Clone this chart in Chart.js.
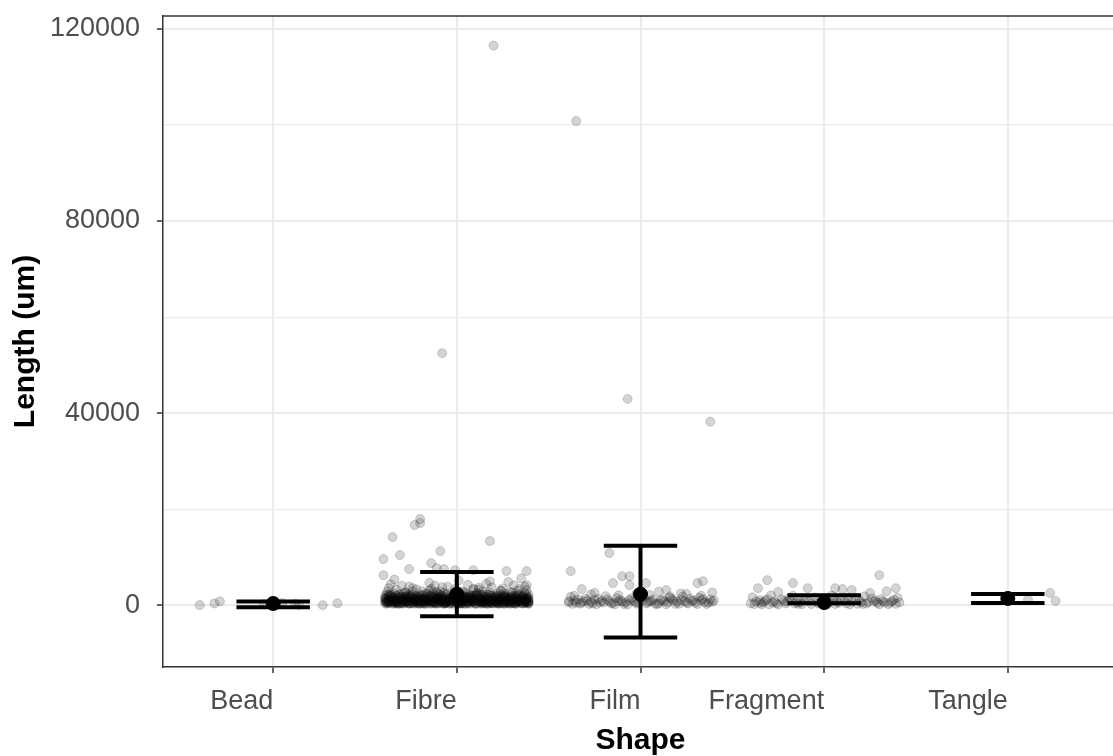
<!DOCTYPE html>
<html>
<head>
<meta charset="utf-8">
<script src="https://cdn.jsdelivr.net/npm/chart.js@4.4.1/dist/chart.umd.min.js"></script>
<style>
html, body { margin: 0; padding: 0; background: #fff; overflow: hidden; }
#wrap { width: 1126px; height: 756px; }
</style>
</head>
<body>
<div id="wrap"><canvas id="grafico" width="1126" height="756"></canvas></div>
<script>
// ==============================
// DATA
// ==============================

const shapes = ["Bead", "Fibre", "Film", "Fragment", "Tangle"];
const yTicks = [0, 40000, 80000, 120000];
const yMinor = [20000, 60000, 100000];

// summary per shape: point, lower and upper end of the error bar
const centre  = [400, 2350, 2350, 600, 1460];
const barLow  = [-350, -2230, -6650, 480, 520];
const barHigh = [800, 6940, 12420, 2100, 2400];

// measured particles: [jitter, length in um]
const beadPts = [
  [-0.40, 80], [-0.32, 420], [-0.29, 850], [-0.05, 300], [0.05, 500],
  [0.12, 350], [0.14, 80], [0.27, 60], [0.35, 460]
];

const fibrePts = [
  [0.20, 116500], [-0.08, 52500],
  [-0.20, 17980], [-0.23, 16730], [-0.20, 17150], [-0.35, 14230], [0.18, 13400],
  [-0.40, 9650], [-0.31, 10480], [-0.09, 11310], [-0.26, 7560], [-0.14, 8810],
  [-0.40, 6310], [0.38, 7150], [0.27, 7150], [0.09, 7350], [-0.01, 7350],
  [-0.11, 7770], [-0.07, 7560],
  [-0.37, 3600], [-0.30, 4100], [-0.22, 3350], [-0.15, 4700], [-0.08, 3800], [-0.01, 3450],
  [0.06, 4300], [0.12, 3700], [0.18, 5000], [0.25, 3550], [0.31, 4200], [0.37, 3900],
  [-0.34, 5400], [-0.26, 3950], [0.01, 5200], [0.09, 3300], [0.28, 4900], [0.35, 5600],
  [-0.38, 2900], [-0.33, 3300], [-0.28, 2750], [-0.24, 3600], [-0.19, 2950], [-0.14, 3450],
  [-0.09, 2850], [-0.05, 3900], [0.00, 3050], [0.04, 2700], [0.09, 3500], [0.14, 2900],
  [0.19, 3800], [0.24, 3100], [0.29, 2800], [0.34, 3400], [0.38, 4200], [-0.36, 4400],
  [-0.12, 4100], [0.16, 4500],
  [-0.38, 820], [-0.35, 1540], [-0.31, 410], [-0.27, 2210], [-0.24, 960], [-0.20, 1330],
  [-0.17, 620], [-0.13, 2870], [-0.09, 1120], [-0.06, 480], [-0.02, 1760], [0.02, 930],
  [0.05, 2450], [0.09, 710], [0.12, 1390], [0.16, 380], [0.19, 2030], [0.23, 1050],
  [0.26, 560], [0.30, 1680], [0.33, 890], [0.37, 2610],
  [-0.37, 1960], [-0.33, 690], [-0.30, 1210], [-0.26, 350], [-0.22, 1820], [-0.19, 1040],
  [-0.15, 3150], [-0.11, 760], [-0.08, 1450], [-0.04, 520], [0.00, 2290], [0.03, 860],
  [0.07, 1610], [0.10, 420], [0.14, 1150], [0.18, 2720], [0.21, 790], [0.25, 1370],
  [0.28, 450], [0.32, 1910], [0.35, 1000], [0.39, 640],
  [-0.39, 1250], [-0.34, 2480], [-0.29, 880], [-0.25, 1590], [-0.21, 470], [-0.18, 2060],
  [-0.14, 950], [-0.10, 1680], [-0.07, 330], [-0.03, 1300], [0.01, 640], [0.04, 1870],
  [0.08, 1010], [0.11, 2560], [0.15, 730], [0.17, 1480], [0.22, 580], [0.24, 2150],
  [0.29, 970], [0.31, 1260], [0.36, 390], [0.38, 1730],
  [-0.36, 540], [-0.32, 1380], [-0.28, 2640], [-0.23, 730], [-0.20, 1900], [-0.16, 400],
  [-0.12, 1220], [-0.10, 2340], [-0.05, 870], [-0.01, 1520], [0.02, 370], [0.06, 1090],
  [0.09, 2010], [0.13, 540], [0.16, 1630], [0.20, 910], [0.24, 3010], [0.27, 680],
  [0.31, 1440], [0.34, 2290], [0.37, 770], [0.39, 1180],
  [-0.38, 2330], [-0.34, 1080], [-0.30, 590], [-0.27, 1710], [-0.23, 1160], [-0.19, 760],
  [-0.16, 2500], [-0.12, 430], [-0.08, 1940], [-0.05, 1200], [-0.01, 680], [0.03, 2880],
  [0.06, 500], [0.10, 1340], [0.13, 870], [0.17, 2240], [0.20, 450], [0.23, 1560],
  [0.27, 1120], [0.30, 2700], [0.34, 580], [0.38, 1390],
  [-0.39, 700], [-0.36, 1820], [-0.32, 310], [-0.29, 1450], [-0.25, 2090], [-0.21, 820],
  [-0.17, 1600], [-0.14, 590], [-0.11, 2760], [-0.07, 1020], [-0.03, 440], [0.00, 1640],
  [0.04, 1230], [0.07, 360], [0.11, 1980], [0.14, 1060], [0.18, 610], [0.22, 2380],
  [0.25, 840], [0.29, 1520], [0.32, 400], [0.36, 2040],
  [-0.37, 1150], [-0.33, 460], [-0.29, 2560], [-0.26, 1030], [-0.22, 640], [-0.18, 1370],
  [-0.15, 1980], [-0.11, 350], [-0.07, 2630], [-0.04, 1490], [0.00, 770], [0.04, 1300],
  [0.08, 560], [0.11, 2110], [0.15, 1210], [0.19, 470], [0.22, 1790], [0.26, 2430],
  [0.29, 620], [0.33, 1100], [0.36, 1640], [0.39, 420],
  [-0.38, 390], [-0.35, 1260], [-0.31, 1790], [-0.28, 550], [-0.24, 2930], [-0.20, 1130],
  [-0.17, 330], [-0.13, 1560], [-0.09, 860], [-0.06, 2190], [-0.02, 1090], [0.01, 520],
  [0.05, 1720], [0.08, 940], [0.12, 3300], [0.15, 410], [0.19, 1280], [0.22, 730],
  [0.26, 1860], [0.30, 1010], [0.33, 3080], [0.37, 520],
  [-0.36, 2090], [-0.33, 830], [-0.28, 1330], [-0.24, 390], [-0.21, 1050], [-0.17, 2410],
  [-0.13, 700], [-0.10, 1190], [-0.06, 480], [-0.02, 2020], [0.02, 1420], [0.05, 650],
  [0.09, 1050], [0.13, 2300], [0.16, 790], [0.20, 1690], [0.23, 360], [0.27, 1230],
  [0.31, 2050], [0.34, 880], [0.38, 1530], [0.39, 2260],
  [-0.39, 1600], [-0.35, 660], [-0.32, 2190], [-0.27, 940], [-0.23, 1420], [-0.20, 340],
  [-0.16, 1110], [-0.12, 1830], [-0.09, 600], [-0.05, 1360], [-0.01, 2560], [0.03, 460],
  [0.07, 1810], [0.10, 1180], [0.14, 600], [0.17, 1370], [0.21, 2040], [0.25, 380],
  [0.28, 1580], [0.32, 720], [0.35, 1290], [0.38, 3200],
  [-0.38, 560], [-0.34, 1020], [-0.30, 1870], [-0.26, 420], [-0.22, 1290], [-0.18, 810],
  [-0.14, 1500], [-0.10, 540], [-0.06, 990], [-0.02, 1410], [0.02, 760], [0.06, 1940],
  [0.10, 330], [0.14, 1250], [0.18, 1030], [0.22, 590], [0.26, 1700], [0.30, 460],
  [0.34, 1120], [0.38, 880],
  [-0.39, 950], [-0.35, 350], [-0.31, 1480], [-0.27, 770], [-0.23, 390], [-0.19, 1240],
  [-0.15, 870], [-0.11, 1590], [-0.07, 410], [-0.03, 890], [0.01, 1170], [0.05, 340],
  [0.09, 1510], [0.13, 920], [0.17, 400], [0.21, 1090], [0.25, 1330], [0.29, 350],
  [0.33, 800], [0.37, 1270],
  [-0.39, 1420], [-0.37, 530], [-0.34, 1760], [-0.32, 990], [-0.29, 410], [-0.27, 1330],
  [-0.24, 2270], [-0.22, 680], [-0.19, 1480], [-0.17, 920], [-0.14, 2110], [-0.12, 450],
  [-0.09, 1270], [-0.07, 820], [-0.04, 1960], [-0.02, 590], [0.01, 1390], [0.03, 2160],
  [0.06, 710], [0.08, 1550], [0.11, 380], [0.13, 1120], [0.16, 2310], [0.18, 650],
  [0.21, 1470], [0.23, 960], [0.26, 2060], [0.28, 520], [0.31, 1340], [0.33, 870],
  [0.36, 1890], [0.38, 610],
  [-0.38, 1050], [-0.36, 2380], [-0.33, 640], [-0.31, 1190], [-0.28, 1830], [-0.26, 470],
  [-0.23, 980], [-0.21, 1620], [-0.18, 360], [-0.16, 1280], [-0.13, 760], [-0.11, 2010],
  [-0.08, 1100], [-0.06, 540], [-0.03, 1650], [-0.01, 1030], [0.02, 440], [0.04, 1210],
  [0.07, 2230], [0.09, 830], [0.12, 1660], [0.14, 470], [0.17, 1000], [0.19, 1820],
  [0.22, 390], [0.24, 1250], [0.27, 780], [0.29, 2200], [0.32, 560], [0.34, 1430],
  [0.37, 1010], [0.39, 330],
  [-0.39, 380], [-0.36, 1300], [-0.34, 700], [-0.31, 2320], [-0.29, 1020], [-0.26, 1560],
  [-0.24, 520], [-0.21, 1180], [-0.19, 2170], [-0.16, 780], [-0.14, 340], [-0.11, 1420],
  [-0.09, 1890], [-0.06, 650], [-0.04, 1140], [-0.01, 2390], [0.01, 480], [0.04, 1560],
  [0.06, 900], [0.09, 1240], [0.11, 2420], [0.14, 690], [0.16, 1350], [0.19, 420],
  [0.21, 1720], [0.24, 1130], [0.26, 350], [0.29, 1790], [0.31, 760], [0.34, 2090],
  [0.36, 1200], [0.39, 870],
  [-0.37, 870], [-0.35, 1650], [-0.32, 450], [-0.30, 1030], [-0.27, 1900], [-0.25, 720],
  [-0.22, 1410], [-0.20, 560], [-0.17, 1830], [-0.15, 1090], [-0.12, 660], [-0.10, 1540],
  [-0.07, 1160], [-0.05, 2450], [-0.02, 370], [0.00, 1190], [0.03, 700], [0.05, 1750],
  [0.08, 1310], [0.10, 590], [0.13, 1980], [0.15, 860], [0.18, 1540], [0.20, 1150],
  [0.23, 460], [0.25, 1900], [0.28, 1040], [0.30, 620], [0.33, 1570], [0.35, 440],
  [0.38, 2150], [0.39, 980],
  [-0.38, 1590], [-0.35, 900], [-0.33, 2060], [-0.30, 380], [-0.28, 1240], [-0.25, 1810],
  [-0.23, 840], [-0.20, 2200], [-0.18, 530], [-0.15, 1380], [-0.13, 1010], [-0.10, 420],
  [-0.08, 1700], [-0.05, 790], [-0.03, 1310], [0.00, 460], [0.02, 1880], [0.05, 1060],
  [0.07, 1460], [0.10, 2100], [0.12, 720], [0.15, 1830], [0.17, 350], [0.20, 1290],
  [0.22, 2010], [0.25, 700], [0.27, 1480], [0.30, 1200], [0.32, 340], [0.35, 1740],
  [0.37, 590], [0.39, 1460],
  [-0.39, 2020], [-0.37, 760], [-0.34, 1120], [-0.32, 1540], [-0.29, 640], [-0.27, 870],
  [-0.24, 1690], [-0.22, 1250], [-0.19, 450], [-0.17, 1110], [-0.14, 1790], [-0.12, 930],
  [-0.09, 2300], [-0.07, 560], [-0.04, 1430], [-0.02, 1700], [0.01, 830], [0.03, 430],
  [0.06, 1590], [0.08, 2050], [0.11, 990], [0.13, 1480], [0.16, 580], [0.18, 2170],
  [0.21, 1060], [0.23, 1690], [0.26, 510], [0.28, 1100], [0.31, 1630], [0.33, 2340],
  [0.36, 480], [0.38, 1350],
  [-0.38, 680], [-0.36, 1160], [-0.33, 1450], [-0.31, 580], [-0.28, 990], [-0.26, 2040],
  [-0.23, 1560], [-0.21, 390], [-0.18, 1160], [-0.16, 880], [-0.13, 2240], [-0.11, 1350],
  [-0.08, 500], [-0.06, 1760], [-0.03, 940], [-0.01, 1210], [0.02, 2080], [0.04, 350],
  [0.07, 1010], [0.09, 1400], [0.12, 860], [0.14, 2240], [0.17, 1130], [0.19, 610],
  [0.22, 1310], [0.24, 470], [0.27, 1640], [0.29, 920], [0.32, 1820], [0.34, 640],
  [0.37, 1180], [0.39, 1740],
  [-0.37, 2250], [-0.34, 410], [-0.32, 1310], [-0.29, 1670], [-0.27, 560], [-0.24, 1150],
  [-0.22, 2000], [-0.19, 880], [-0.17, 1400], [-0.14, 500], [-0.12, 1670], [-0.09, 1000],
  [-0.07, 1450], [-0.04, 330], [-0.02, 2150], [0.01, 1540], [0.03, 990], [0.06, 560],
  [0.08, 1180], [0.11, 1570], [0.13, 340], [0.16, 1800], [0.18, 940], [0.21, 530],
  [0.23, 1220], [0.26, 1600], [0.28, 880], [0.31, 410], [0.33, 1270], [0.36, 1560],
  [0.38, 700], [0.39, 540]
];

const filmPts = [
  [-0.35, 100800], [-0.07, 42980], [0.38, 38250],
  [-0.17, 10900], [-0.38, 7150], [-0.15, 4650], [-0.10, 6100], [-0.06, 6100], [-0.06, 4230],
  [0.03, 4650], [0.31, 4650], [0.34, 5060], [0.14, 3190], [-0.32, 3400],
  [0.22, 2500], [-0.25, 2600], [0.10, 2900],
  [-0.36, 2000], [-0.27, 2300], [-0.12, 2100], [-0.02, 2600], [0.05, 2200], [0.16, 1900],
  [0.25, 2400], [0.33, 2000], [0.39, 2700],
  [-0.39, 620], [-0.36, 1050], [-0.33, 380], [-0.30, 1410], [-0.27, 720], [-0.24, 250],
  [-0.21, 980], [-0.18, 1300], [-0.15, 520], [-0.12, 870], [-0.09, 300], [-0.06, 1150],
  [-0.03, 680], [0.00, 1480], [0.03, 420], [0.06, 930], [0.09, 260], [0.12, 1210],
  [0.15, 640], [0.18, 1020], [0.21, 350], [0.24, 850], [0.27, 1390], [0.30, 560],
  [0.33, 1100], [0.36, 300], [0.39, 760],
  [-0.38, 1800], [-0.35, 560], [-0.31, 880], [-0.28, 310], [-0.25, 1220], [-0.22, 640],
  [-0.19, 1940], [-0.16, 420], [-0.13, 1540], [-0.10, 780], [-0.07, 210], [-0.04, 1020],
  [-0.01, 560], [0.02, 1690], [0.05, 850], [0.08, 380], [0.11, 1060], [0.14, 270],
  [0.17, 1370], [0.20, 760], [0.23, 1870], [0.26, 430], [0.29, 1030], [0.32, 1630],
  [0.35, 690], [0.38, 1250],
  [-0.39, 900], [-0.37, 330], [-0.34, 1250], [-0.32, 560], [-0.29, 980], [-0.26, 400],
  [-0.23, 1350], [-0.20, 590], [-0.17, 880], [-0.14, 240], [-0.11, 1120], [-0.08, 640],
  [-0.05, 1500], [-0.02, 370], [0.01, 980], [0.04, 610], [0.07, 1270], [0.10, 450],
  [0.13, 880], [0.16, 1540], [0.19, 330], [0.22, 1150], [0.25, 560], [0.28, 910],
  [0.31, 300], [0.34, 1320], [0.37, 580], [0.40, 1020]
];

const fragmentPts = [
  [-0.31, 5270], [0.30, 6310], [-0.17, 4650], [-0.09, 3600], [0.06, 3600], [0.10, 3400],
  [0.15, 3190], [0.39, 3600], [0.34, 2980], [-0.36, 3600], [-0.25, 2800], [0.25, 2600],
  [-0.40, 420], [-0.37, 850], [-0.34, 230], [-0.31, 1280], [-0.28, 600], [-0.25, 180],
  [-0.22, 940], [-0.19, 1500], [-0.16, 410], [-0.13, 760], [-0.10, 1150], [-0.07, 300],
  [-0.04, 640], [-0.01, 980], [0.02, 250], [0.05, 1320], [0.08, 530], [0.11, 860],
  [0.14, 210], [0.17, 1180], [0.20, 690], [0.23, 380], [0.26, 1450], [0.29, 560],
  [0.32, 900], [0.35, 270], [0.38, 1210], [0.41, 620],
  [-0.39, 1700], [-0.35, 560], [-0.32, 1030], [-0.29, 2100], [-0.26, 470], [-0.23, 1300],
  [-0.20, 780], [-0.17, 2000], [-0.14, 330], [-0.11, 1050], [-0.05, 1650], [0.00, 420],
  [0.04, 2050], [0.07, 760], [0.13, 1600], [0.18, 350], [0.22, 1900], [0.27, 800],
  [0.31, 1350], [0.36, 590], [0.40, 1600],
  [-0.38, 300], [-0.35, 1100], [-0.33, 650], [-0.30, 250], [-0.27, 900], [-0.21, 420],
  [-0.18, 1050], [-0.15, 700], [-0.12, 280], [-0.08, 850], [-0.03, 400], [0.01, 1100],
  [0.03, 650], [0.06, 300], [0.09, 1000], [0.12, 450], [0.15, 780], [0.19, 1200],
  [0.21, 320], [0.24, 680], [0.28, 1050], [0.30, 260], [0.33, 600], [0.37, 900],
  [0.39, 330]
];

const tanglePts = [
  [0.23, 2600], [0.26, 950], [0.11, 1140]
];

const allPts = [beadPts, fibrePts, filmPts, fragmentPts, tanglePts];

// ==============================
// BUILD DATASETS
// ==============================

const jitterData = [];
allPts.forEach((lista, i) => {
  lista.forEach(p => jitterData.push({ x: i + 1 + p[0], y: p[1] }));
});

const meanData = centre.map((v, i) => ({ x: i + 1, y: v }));

// error bars as line pieces broken by gaps
const capHalf = 0.2;
const barData = [];
shapes.forEach((s, i) => {
  const c = i + 1;
  barData.push({ x: c - capHalf, y: barHigh[i] }, { x: c + capHalf, y: barHigh[i] }, { x: c, y: null });
  barData.push({ x: c, y: barHigh[i] }, { x: c, y: barLow[i] }, { x: c, y: null });
  barData.push({ x: c - capHalf, y: barLow[i] }, { x: c + capHalf, y: barLow[i] }, { x: c, y: null });
});

// y range with 5% padding on each side
const todos = jitterData.map(d => d.y).concat(barLow, barHigh);
const yLo = Math.min(...todos);
const yHi = Math.max(...todos);
const yPad = (yHi - yLo) * 0.05;

// ==============================
// PANEL TOP BORDER
// ==============================

const bordeSuperior = {
  id: "bordeSuperior",
  afterDraw(chart) {
    const a = chart.chartArea;
    const ctx = chart.ctx;
    ctx.save();
    ctx.strokeStyle = "#333333";
    ctx.lineWidth = 1.5;
    ctx.beginPath();
    ctx.moveTo(a.left, a.top);
    ctx.lineTo(a.right, a.top);
    ctx.stroke();
    ctx.restore();
  }
};

// fixed axis boxes, no extra room for label overhang
function sinRelleno(s) {
  s.paddingTop = 0;
  s.paddingBottom = 0;
  s.paddingLeft = 0;
  s.paddingRight = 0;
}

// ==============================
// CHART
// ==============================

const tickFont = { family: "'Liberation Sans', Arial, sans-serif", size: 27 };
const titleFont = { family: "'Liberation Sans', Arial, sans-serif", size: 30, weight: "bold", lineHeight: 1 };

const ctx = document.getElementById("grafico").getContext("2d");

new Chart(ctx, {
  type: "scatter",
  data: {
    datasets: [
      {
        label: "mean",
        data: meanData,
        order: 0,
        pointRadius: 7,
        pointBackgroundColor: "#000",
        pointBorderColor: "#000",
        pointBorderWidth: 1
      },
      {
        type: "line",
        label: "bar",
        data: barData,
        order: 1,
        borderColor: "#000",
        borderWidth: 4,
        borderCapStyle: "butt",
        pointRadius: 0,
        spanGaps: false,
        fill: false
      },
      {
        label: "particles",
        data: jitterData,
        order: 2,
        pointRadius: 4.5,
        pointBackgroundColor: "rgba(0,0,0,0.17)",
        pointBorderColor: "rgba(0,0,0,0.17)",
        pointBorderWidth: 1
      }
    ]
  },
  options: {
    responsive: false,
    animation: false,
    devicePixelRatio: 1,
    layout: { padding: { top: 16, left: 0, right: 0, bottom: 0 } },
    plugins: {
      legend: { display: false },
      tooltip: { enabled: false }
    },
    scales: {
      x: {
        type: "linear",
        min: 0.4,
        max: 5.6,
        afterFit: s => { s.height = 89; sinRelleno(s); },
        afterBuildTicks: s => { s.ticks = shapes.map((n, i) => ({ value: i + 1 })); },
        grid: { color: "#EBEBEB", lineWidth: 2, tickColor: "#333333", tickLength: 6, tickWidth: 1.5 },
        border: { color: "#333333", width: 1.5 },
        ticks: {
          align: "end",
          maxRotation: 0,
          autoSkip: false,
          padding: 12,
          color: "#4D4D4D",
          font: tickFont,
          callback: (v, i) => shapes[i]
        },
        title: {
          display: true,
          text: "Shape",
          color: "#000",
          font: titleFont,
          padding: { top: 0, bottom: 0 }
        }
      },
      y: {
        min: yLo - yPad,
        max: yHi + yPad,
        afterFit: s => { s.width = 163; sinRelleno(s); },
        afterBuildTicks: s => {
          s.ticks = yTicks.concat(yMinor).sort((a, b) => a - b).map(v => ({ value: v }));
        },
        grid: {
          color: "#EBEBEB",
          lineWidth: c => yTicks.includes(c.tick.value) ? 2 : 1.2,
          tickColor: c => yTicks.includes(c.tick.value) ? "#333333" : "rgba(0,0,0,0)",
          tickLength: 6,
          tickWidth: 1.5
        },
        border: { color: "#333333", width: 1.5 },
        ticks: {
          padding: 17,
          color: "#4D4D4D",
          font: tickFont,
          callback: v => yTicks.includes(v) ? String(v) : ""
        },
        title: {
          display: true,
          text: "Length (um)",
          color: "#000",
          font: titleFont,
          padding: { top: 11, bottom: 0 }
        }
      }
    }
  },
  plugins: [bordeSuperior]
});
</script>
</body>
</html>
